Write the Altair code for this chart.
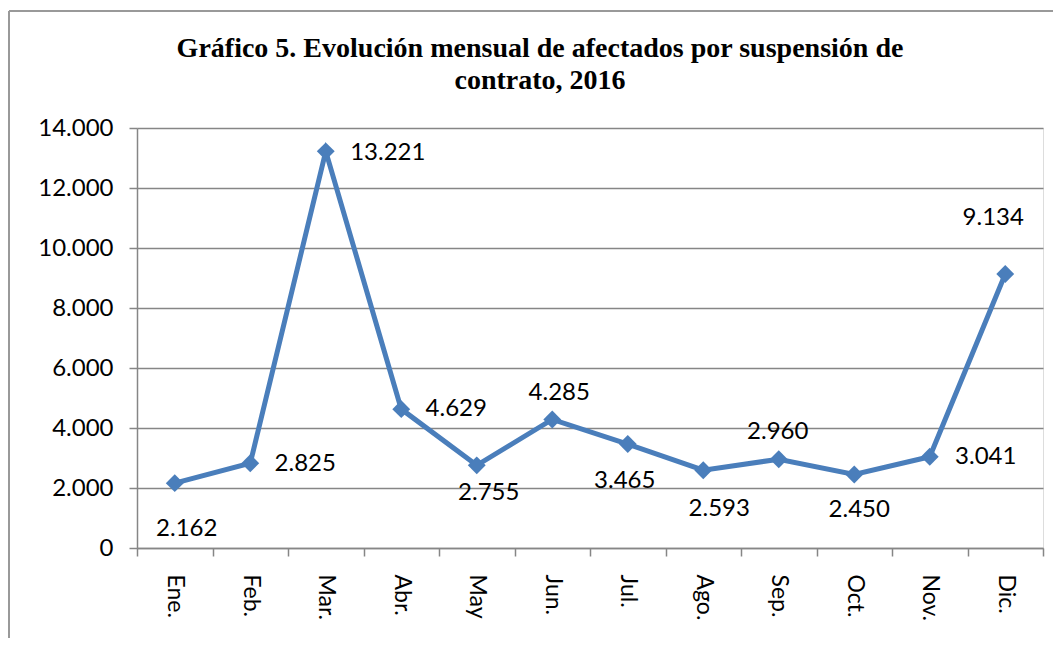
import altair as alt
import pandas as pd

months = ["Ene.", "Feb.", "Mar.", "Abr.", "May", "Jun.", "Jul.", "Ago.", "Sep.", "Oct.", "Nov.", "Dic."]
values = [2162, 2825, 13221, 4629, 2755, 4285, 3465, 2593, 2960, 2450, 3041, 9134]
y_ticks = [0, 2000, 4000, 6000, 8000, 10000, 12000, 14000]
title_lines = ["Gráfico 5. Evolución mensual de afectados por suspensión de", "contrato, 2016"]

# label offsets in pixels (placement only)
label_dx = [12, 55, 62, 55, 12, 7, -3, 16, -1, 5, 56, -12]
label_dy = [46, 1, 2, 0, 28, -26, 37, 39, -27, 35, 0, -56]

df = pd.DataFrame({
    "mes": months,
    "valor": values,
    "etiqueta": [f"{v:,}".replace(",", ".") for v in values],
})

LINE = "#4A7EBB"
GRID = "#868686"
FONT = "Lato"

x_enc = alt.X("mes:N", sort=months, title=None,
              scale=alt.Scale(paddingInner=0, paddingOuter=0),
              axis=alt.Axis(labelAngle=90, labelAlign="left", labelBaseline="middle",
                            labelFont=FONT, labelFontSize=23, labelColor="black",
                            labelPadding=18, tickSize=8, tickColor=GRID, tickWidth=1.5,
                            domainColor=GRID, domainWidth=1.5, grid=False, tickBand="extent"))
y_enc = alt.Y("valor:Q", title=None,
              scale=alt.Scale(domain=[0, 14000], nice=False),
              axis=alt.Axis(values=y_ticks, labelFont=FONT, labelFontSize=24, labelColor="black",
                            labelPadding=16, tickSize=8, tickColor=GRID, tickWidth=1.5,
                            domainColor=GRID, domainWidth=1.5, gridColor=GRID, gridWidth=1.5,
                            labelExpr="replace(format(datum.value, ','), ',', '.')"))

base = alt.Chart(df)
line = base.mark_line(color=LINE, strokeWidth=5).encode(x=x_enc, y=y_enc)
pts = base.mark_point(shape="diamond", filled=True, size=320, color=LINE, opacity=1).encode(x=x_enc, y=y_enc)

labels = []
for m, dx, dy in zip(months, label_dx, label_dy):
    labels.append(
        base.transform_filter(alt.datum.mes == m)
        .mark_text(dx=dx, dy=dy, font=FONT, fontSize=24, color="black", align="center", baseline="middle")
        .encode(x=alt.X("mes:N", sort=months), y="valor:Q", text="etiqueta:N")
    )

one = pd.DataFrame({"a": [0]})
border_left = alt.Chart(one).mark_rule(color="#999999", strokeWidth=2).encode(
    x=alt.value(-128), y=alt.value(-117), y2=alt.value(560))
border_top = alt.Chart(one).mark_rule(color="#999999", strokeWidth=2).encode(
    x=alt.value(-128), x2=alt.value(930), y=alt.value(-117))
title = alt.Chart(one).mark_text(
    font="Liberation Serif", fontSize=28, fontWeight="bold", color="black",
    align="center", baseline="alphabetic", lineHeight=32
).encode(x=alt.value(403), y=alt.value(-71), text=alt.value(title_lines))

chart = alt.layer(border_left, border_top, title, line, pts, *labels).properties(
    width=906, height=420,
    autosize=alt.AutoSizeParams(type="none"),
    padding={"left": 129, "top": 120, "right": 10, "bottom": 90},
).configure_view(stroke=None).configure(background="white")

chart.save("out.html", embed_options={"renderer": "svg", "actions": False})
